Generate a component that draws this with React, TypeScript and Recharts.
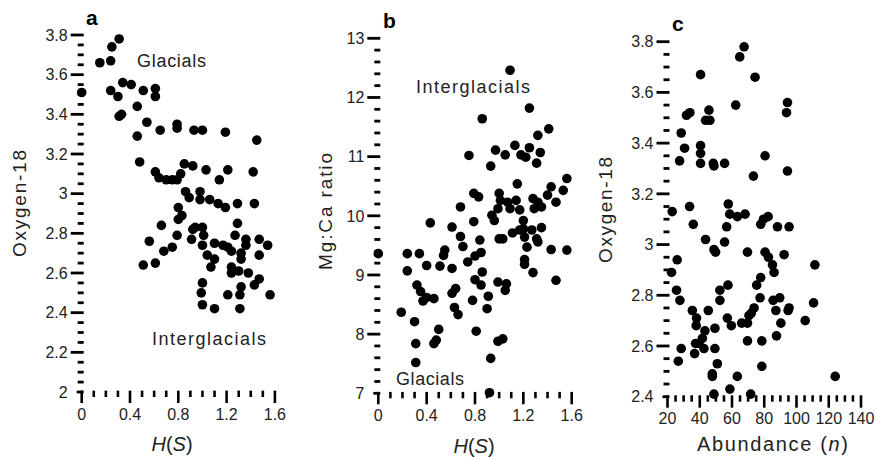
import React from "react";
import { ScatterChart, Scatter, XAxis, YAxis } from "recharts";

// panel a: diversity H(S) vs oxygen-18
const aHS = [
  0.0, 0.15, 0.24, 0.25, 0.31, 0.24, 0.3, 0.34, 0.41, 0.51, 0.61, 0.61, 0.31, 0.33, 0.46, 0.54,
  0.65, 0.46, 0.79, 0.79, 0.93, 1.0, 1.19, 1.45, 0.48, 0.61, 0.64, 0.7, 0.75, 0.79, 0.82, 0.85,
  0.92, 1.03, 1.14, 1.21, 1.42, 0.86, 0.89, 0.98, 0.98, 1.06, 1.13, 1.19, 1.29, 1.43, 0.8, 0.8,
  0.83, 0.66, 0.94, 1.0, 1.29, 0.79, 0.92, 1.01, 0.91, 0.56, 0.68, 0.75, 1.0, 1.1, 1.17, 1.21,
  1.24, 1.27, 1.36, 1.36, 1.47, 1.54, 1.04, 1.1, 1.32, 1.32, 1.47, 0.51, 0.61, 1.07, 1.24, 1.24,
  1.3, 1.38, 1.47, 1.43, 1.0, 1.32, 0.99, 1.21, 1.31, 1.56, 1.0, 1.1, 1.31,
];
const aO18 = [
  3.51, 3.66, 3.67, 3.74, 3.78, 3.52, 3.49, 3.56, 3.55, 3.52, 3.53, 3.49, 3.39, 3.4, 3.44, 3.36,
  3.32, 3.29, 3.35, 3.33, 3.32, 3.32, 3.31, 3.27, 3.16, 3.11, 3.08, 3.07, 3.07, 3.07, 3.1, 3.15,
  3.14, 3.12, 3.07, 3.12, 3.11, 3.01, 2.98, 3.01, 2.97, 2.97, 2.95, 2.93, 2.95, 2.95, 2.93, 2.87,
  2.89, 2.84, 2.83, 2.83, 2.85, 2.79, 2.82, 2.79, 2.77, 2.76, 2.71, 2.73, 2.74, 2.75, 2.74, 2.73,
  2.71, 2.79, 2.77, 2.74, 2.77, 2.74, 2.69, 2.67, 2.7, 2.67, 2.69, 2.64, 2.65, 2.63, 2.63, 2.6,
  2.61, 2.6, 2.57, 2.54, 2.55, 2.53, 2.5, 2.49, 2.49, 2.49, 2.44, 2.42, 2.42,
];

// panel b: H(S) vs Mg:Ca ratio
const bHS = [
  1.09, 1.25, 0.86, 1.41, 1.32, 0.75, 0.97, 1.05, 1.13, 1.18, 1.22, 1.25, 1.34, 1.31, 0.93, 1.56,
  1.43, 1.53, 1.15, 0.79, 0.83, 1.0, 1.01, 1.07, 1.14, 1.28, 1.32, 1.4, 1.47, 0.68, 0.99, 1.09,
  1.17, 1.29, 1.35, 0.94, 0.96, 0.79, 0.43, 0.61, 1.2, 1.11, 1.17, 1.2, 1.35, 1.27, 0.68, 0.84,
  1.0, 1.03, 1.21, 1.31, 1.32, 0.7, 1.23, 1.43, 1.56, 0.0, 0.24, 0.34, 0.55, 0.54, 0.85, 0.8,
  0.74, 1.21, 1.21, 0.24, 0.4, 0.51, 0.61, 0.86, 1.28, 0.8, 0.85, 0.99, 1.06, 1.05, 1.47, 0.32,
  0.35, 0.37, 0.4, 0.46, 0.64, 0.61, 0.78, 0.91, 0.63, 0.66, 0.9, 0.19, 0.3, 0.5, 0.81, 0.31,
  0.46, 0.48, 0.99, 1.03, 0.93, 0.31, 0.92,
];
const bMgCa = [
  12.46, 11.82, 11.64, 11.47, 11.36, 11.02, 11.11, 11.03, 11.19, 11.03, 10.99, 11.15, 11.07, 10.89, 10.84, 10.63,
  10.49, 10.43, 10.54, 10.38, 10.32, 10.38, 10.26, 10.23, 10.26, 10.29, 10.23, 10.35, 10.23, 10.15, 10.12, 10.12,
  10.1, 10.12, 10.15, 10.01, 9.92, 9.9, 9.88, 9.81, 9.92, 9.71, 9.76, 9.78, 9.8, 9.76, 9.65, 9.59,
  9.61, 9.61, 9.64, 9.61, 9.56, 9.48, 9.47, 9.43, 9.42, 9.36, 9.36, 9.36, 9.42, 9.33, 9.38, 9.32,
  9.22, 9.26, 9.18, 9.07, 9.16, 9.15, 9.11, 9.05, 9.04, 8.92, 8.83, 8.88, 8.85, 8.74, 8.91, 8.83,
  8.72, 8.56, 8.62, 8.6, 8.77, 8.69, 8.57, 8.64, 8.45, 8.33, 8.43, 8.37, 8.21, 8.08, 8.05, 7.84,
  7.84, 7.9, 7.88, 7.92, 7.59, 7.52, 7.01,
];

// panel c: abundance n vs oxygen-18
const cAbund = [
  67.5, 64.8, 40.5, 74.3, 62.3, 94.4, 93.8, 31.8, 33.9, 45.7, 43.6, 46.3, 28.5, 30.6, 27.5, 40.5,
  40.5, 40.5, 48.4, 48.8, 55.4, 80.5, 73.3, 94.4, 22.9, 33.7, 57.7, 58.6, 63.3, 68.1, 79.5, 82.4,
  36.0, 56.7, 77.8, 88.2, 95.4, 43.6, 55.4, 48.8, 49.8, 69.6, 80.5, 82.6, 92.3, 85.1, 86.1, 111.4,
  26.0, 22.5, 77.8, 25.6, 27.7, 57.5, 52.5, 52.5, 75.3, 77.4, 85.5, 89.6, 110.6, 35.4, 45.3, 38.0,
  37.8, 43.2, 49.4, 57.1, 59.6, 66.0, 69.6, 70.5, 72.0, 73.7, 87.2, 94.8, 95.4, 90.3, 105.4, 41.6,
  37.4, 39.5, 42.6, 28.5, 49.4, 69.6, 78.5, 87.6, 36.8, 26.7, 50.9, 78.5, 47.8, 47.8, 63.3, 124.0,
  58.7, 48.8, 71.6,
];
const cO18 = [
  3.78, 3.74, 3.67, 3.66, 3.55, 3.56, 3.52, 3.51, 3.52, 3.53, 3.49, 3.49, 3.44, 3.38, 3.33, 3.39,
  3.36, 3.32, 3.32, 3.31, 3.32, 3.35, 3.27, 3.29, 3.13, 3.15, 3.16, 3.12, 3.11, 3.12, 3.1, 3.11,
  3.08, 3.07, 3.08, 3.07, 3.07, 3.02, 3.01, 2.98, 2.97, 2.97, 2.97, 2.95, 2.96, 2.92, 2.89, 2.92,
  2.94, 2.89, 2.87, 2.82, 2.78, 2.84, 2.82, 2.78, 2.84, 2.79, 2.78, 2.79, 2.77, 2.74, 2.74, 2.71,
  2.68, 2.66, 2.67, 2.71, 2.68, 2.69, 2.69, 2.72, 2.73, 2.75, 2.74, 2.74, 2.75, 2.69, 2.7, 2.63,
  2.61, 2.61, 2.59, 2.59, 2.59, 2.62, 2.62, 2.64, 2.57, 2.54, 2.53, 2.52, 2.49, 2.48, 2.48, 2.48,
  2.43, 2.41, 2.41,
];

// labelled ticks; minor ticks are filled in between
const hsTicks = [0, 0.4, 0.8, 1.2, 1.6];
const aO18Ticks = [2, 2.2, 2.4, 2.6, 2.8, 3, 3.2, 3.4, 3.6, 3.8];
const mgCaTicks = [7, 8, 9, 10, 11, 12, 13];
const abundTicks = [20, 40, 60, 80, 100, 120, 140];
const cO18Ticks = [2.4, 2.6, 2.8, 3, 3.2, 3.4, 3.6, 3.8];

const FONT = '"Liberation Sans", Arial, Helvetica, sans-serif';
const INK = "#222";

const zip = (xs: number[], ys: number[]) => xs.map((x, i) => ({ x, y: ys[i] }));

const withMinor = (majors: number[], step: number) => {
  const out: number[] = [];
  const lo = majors[0];
  const hi = majors[majors.length - 1];
  const n = Math.round((hi - lo) / step);
  for (let i = 0; i <= n; i++) out.push(Math.round((lo + i * step) * 1000) / 1000);
  return out;
};

const isMajor = (majors: number[], v: number) => majors.some((m) => Math.abs(m - v) < 1e-6);

const YTick = (props: any) => {
  const { x, y, payload, majors } = props;
  const v = payload.value;
  const major = isMajor(majors, v);
  const origin = Math.abs(v - majors[0]) < 1e-6;
  const len = origin ? 5 : major ? 11 : 4;
  return (
    <g>
      <line x1={x - len} x2={x + 2} y1={y} y2={y} stroke="#000" strokeWidth={2.8} />
      {major && (
        <text x={x - 14} y={y} dy="0.36em" textAnchor="end" fontSize={16} fontFamily={FONT} fill={INK}>
          {v}
        </text>
      )}
    </g>
  );
};

const XTick = (props: any) => {
  const { x, y, payload, majors } = props;
  const v = payload.value;
  const major = isMajor(majors, v);
  const len = major ? 11 : 5;
  return (
    <g>
      <line x1={x} x2={x} y1={y - 1.4} y2={y + len} stroke="#000" strokeWidth={2.6} />
      {major && (
        <text x={x} y={y + 22} dy="0.36em" textAnchor="middle" fontSize={16} fontFamily={FONT} fill={INK}>
          {v}
        </text>
      )}
    </g>
  );
};

const dot = (p: any) => <circle cx={p.cx} cy={p.cy} r={4.8} fill="#000" />;

const VTitle = ({ x, y, len, children }: any) => (
  <text
    x={x}
    y={y}
    dy="0.36em"
    textAnchor="middle"
    transform={`rotate(-90 ${x} ${y})`}
    fontSize={19}
    fontFamily={FONT}
    fill={INK}
    textLength={len}
    lengthAdjust="spacing"
  >
    {children}
  </text>
);

const Note = ({ x, y, len, children }: any) => (
  <text x={x} y={y} fontSize={18} fontFamily={FONT} fill={INK} textLength={len} lengthAdjust="spacing">
    {children}
  </text>
);

const Letter = ({ x, y, children }: any) => (
  <text x={x} y={y} fontSize={21} fontWeight="bold" fontFamily={FONT} fill="#000">
    {children}
  </text>
);

const HS = ({ x, y }: any) => (
  <text x={x} y={y} dy="0.36em" textAnchor="middle" fontSize={20} fontFamily={FONT} fill={INK}>
    <tspan fontStyle="italic">H</tspan>(<tspan fontStyle="italic">S</tspan>)
  </text>
);

const axisCommon = {
  type: "number" as const,
  interval: 0 as const,
  axisLine: false,
  tickLine: false,
  tickSize: 0,
  tickMargin: 0,
};

const App = () => {
  const aData = zip(aHS, aO18);
  const bData = zip(bHS, bMgCa);
  const cData = zip(cAbund, cO18);

  return (
    <div style={{ position: "absolute", left: 0, top: 0, width: 876, height: 457, background: "#fff" }}>
      <div style={{ position: "absolute", left: 0, top: 0 }}>
        <ScatterChart width={300} height={457} margin={{ top: 35, right: 25.1, bottom: 35, left: 0 }}>
          <XAxis
            {...axisCommon}
            dataKey="x"
            domain={[0, 1.6]}
            ticks={withMinor(hsTicks, 0.1)}
            height={30}
            tick={(p: any) => <XTick {...p} majors={hsTicks} />}
          />
          <YAxis
            {...axisCommon}
            dataKey="y"
            domain={[2, 3.8]}
            ticks={withMinor(aO18Ticks, 0.05)}
            width={81.7}
            tick={(p: any) => <YTick {...p} majors={aO18Ticks} />}
          />
          <Scatter data={aData} shape={dot} isAnimationActive={false} />
          <Letter x={86} y={25}>a</Letter>
          <Note x={137} y={67} len={69}>Glacials</Note>
          <Note x={152} y={345} len={114}>Interglacials</Note>
          <VTitle x={19.5} y={203.5} len={107}>Oxygen-18</VTitle>
          <HS x={172} y={443.3} />
        </ScatterChart>
      </div>

      <div style={{ position: "absolute", left: 290, top: 0 }}>
        <ScatterChart width={300} height={457} margin={{ top: 38.3, right: 18.3, bottom: 33.7, left: 0 }}>
          <XAxis
            {...axisCommon}
            dataKey="x"
            domain={[0, 1.6]}
            ticks={withMinor(hsTicks, 0.1)}
            height={30}
            tick={(p: any) => <XTick {...p} majors={hsTicks} />}
          />
          <YAxis
            {...axisCommon}
            dataKey="y"
            domain={[7, 13]}
            ticks={withMinor(mgCaTicks, 0.2)}
            width={88.3}
            tick={(p: any) => <YTick {...p} majors={mgCaTicks} />}
          />
          <Scatter data={bData} shape={dot} isAnimationActive={false} />
          <Letter x={93} y={28}>b</Letter>
          <Note x={126} y={93} len={114}>Interglacials</Note>
          <Note x={106} y={385} len={68}>Glacials</Note>
          <VTitle x={35} y={211.5} len={117}>Mg:Ca ratio</VTitle>
          <HS x={184} y={445.5} />
        </ScatterChart>
      </div>

      <div style={{ position: "absolute", left: 580, top: 0 }}>
        <ScatterChart width={296} height={457} margin={{ top: 41.7, right: 15, bottom: 30.3, left: 0 }}>
          <XAxis
            {...axisCommon}
            dataKey="x"
            domain={[20, 140]}
            ticks={withMinor(abundTicks, 5)}
            height={30}
            tick={(p: any) => <XTick {...p} majors={abundTicks} />}
          />
          <YAxis
            {...axisCommon}
            dataKey="y"
            domain={[2.4, 3.8]}
            ticks={withMinor(cO18Ticks, 0.05)}
            width={87.5}
            tick={(p: any) => <YTick {...p} majors={cO18Ticks} />}
          />
          <Scatter data={cData} shape={dot} isAnimationActive={false} />
          <Letter x={92} y={30.7}>c</Letter>
          <VTitle x={25} y={210} len={106}>Oxygen-18</VTitle>
          <text
            x={192.5}
            y={444}
            dy="0.36em"
            textAnchor="middle"
            fontSize={20}
            fontFamily={FONT}
            fill={INK}
            textLength={151}
            lengthAdjust="spacing"
          >
            Abundance (<tspan fontStyle="italic">n</tspan>)
          </text>
        </ScatterChart>
      </div>
    </div>
  );
};

export default App;
